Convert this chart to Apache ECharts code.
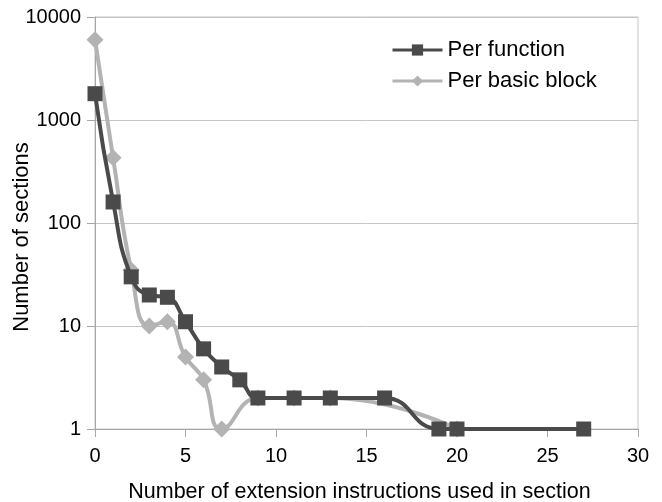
<!DOCTYPE html>
<html>
<head>
<meta charset="utf-8">
<script src="https://cdn.jsdelivr.net/npm/echarts@6/dist/echarts.min.js"></script>
<style>
  html, body { margin: 0; padding: 0; background: #fff; }
  #chart { width: 662px; height: 502px; }
</style>
</head>
<body>
<div id="chart"></div>
<script>
// Sections counted by how many extension instructions they use
const perFunctionX = [0, 1, 2, 3, 4, 5, 6, 7, 8, 9, 11, 13, 16, 19, 20, 27];
const perFunctionY = [1800, 160, 30, 20, 19, 11, 6, 4, 3, 2, 2, 2, 2, 1, 1, 1];
const perBlockX = [0, 1, 2, 3, 4, 5, 6, 7, 9, 11, 13, 20];
const perBlockY = [6000, 430, 35, 10, 11, 5, 3, 1, 2, 2, 2, 1];

const seriesNames = ['Per function', 'Per basic block'];
const xTitle = 'Number of extension instructions used in section';
const yTitle = 'Number of sections';

const pairs = (xs, ys) => xs.map((x, i) => [x, ys[i]]);

const font = '"Liberation Sans", Arial, sans-serif';
const axisGray = '#a6a6a6';
const gridGray = '#c4c4c4';

const chart = echarts.init(document.getElementById('chart'), null, { renderer: 'canvas' });
chart.setOption({
  animation: false,
  backgroundColor: '#ffffff',
  textStyle: { fontFamily: font },
  grid: {
    left: 95, right: 24, top: 17, bottom: 73,
    outerBoundsMode: 'none', containLabel: false,
    show: true, borderColor: gridGray, borderWidth: 1
  },
  legend: {
    data: seriesNames,
    left: 386, top: 34,
    orient: 'vertical',
    itemWidth: 50, itemHeight: 14, itemGap: 9,
    lineStyle: { width: 3 },
    textStyle: { fontSize: 22, color: '#000', fontFamily: font }
  },
  xAxis: {
    type: 'value', min: 0, max: 30, interval: 5,
    name: xTitle, nameLocation: 'middle', nameGap: 52, nameMoveOverlap: false,
    nameTextStyle: { fontSize: 21.5, color: '#000', fontFamily: font, padding: [0, 14, 0, 0] },
    axisLine: { lineStyle: { color: axisGray, width: 1 } },
    axisTick: { show: true, inside: false, length: 8, lineStyle: { color: axisGray } },
    axisLabel: { fontSize: 20, color: '#000', margin: 17 },
    splitLine: { show: false }
  },
  yAxis: {
    type: 'log', logBase: 10, min: 1, max: 10000,
    name: yTitle, nameLocation: 'middle', nameGap: 62, nameRotate: 90, nameMoveOverlap: false,
    nameTextStyle: { fontSize: 22, color: '#000', fontFamily: font, padding: [0, 28, 0, 0] },
    axisLine: { show: true, lineStyle: { color: axisGray, width: 1 } },
    axisTick: { show: true, inside: false, length: 8, lineStyle: { color: axisGray } },
    axisLabel: { fontSize: 20, color: '#000', margin: 14, formatter: v => String(Math.round(v)) },
    splitLine: { show: true, lineStyle: { color: gridGray, width: 1 } },
    minorTick: { show: false }
  },
  series: [
    {
      name: seriesNames[1],
      type: 'line',
      data: pairs(perBlockX, perBlockY),
      smooth: 0.5,
      symbol: 'diamond', symbolSize: 17,
      lineStyle: { color: '#b3b3b3', width: 4 },
      itemStyle: { color: '#b3b3b3' },
      z: 2
    },
    {
      name: seriesNames[0],
      type: 'line',
      data: pairs(perFunctionX, perFunctionY),
      smooth: 0.5,
      symbol: 'rect', symbolSize: 15,
      lineStyle: { color: '#4a4a4a', width: 4 },
      itemStyle: { color: '#4a4a4a' },
      z: 3
    }
  ]
});
</script>
</body>
</html>
